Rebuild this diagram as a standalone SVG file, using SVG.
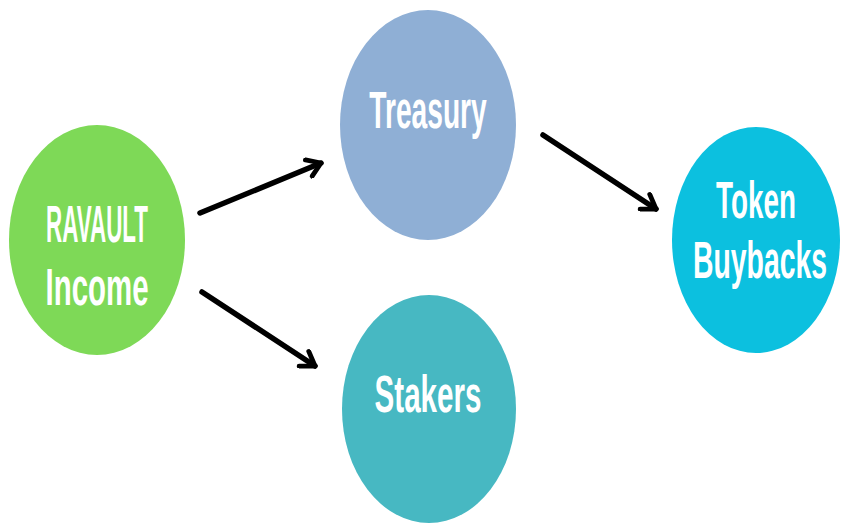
<svg xmlns="http://www.w3.org/2000/svg" width="841" height="525" viewBox="0 0 841 525">
<defs>
<style>
.lbl{font-family:"Liberation Sans","DejaVu Sans",Arial,sans-serif;font-weight:bold;fill:#ffffff;text-anchor:middle;font-size:52px}
.edge{stroke:#000000;stroke-width:5.5;fill:none;stroke-linecap:round;marker-end:url(#chev)}
</style>
<marker id="chev" viewBox="0 0 10 10" refX="8" refY="5" markerWidth="4" markerHeight="4" orient="auto" markerUnits="strokeWidth">
<path d="M2,1 L8,5 L2,9" fill="none" stroke="#000" stroke-width="2.2" stroke-linecap="round" stroke-linejoin="round"/>
</marker>
</defs>
<rect width="841" height="525" fill="#ffffff"/>
<g id="connectors">
<line class="edge" x1="200" y1="213" x2="321" y2="163"/>
<line class="edge" x1="202" y1="292" x2="315" y2="366"/>
<line class="edge" x1="543" y1="135" x2="656" y2="209"/>
</g>
<g id="ravault">
<ellipse cx="97" cy="240" rx="88" ry="115" fill="#7ed957"/>
<text class="lbl" transform="translate(97,242) scale(0.431,1)">RAVAULT</text>
<text class="lbl" transform="translate(97,305) scale(0.566,1)">Income</text>
</g>
<g id="treasury">
<ellipse cx="428" cy="125" rx="88" ry="115" fill="#8fafd5"/>
<text class="lbl" transform="translate(428,128) scale(0.542,1)">Treasury</text>
</g>
<g id="stakers">
<ellipse cx="429" cy="409" rx="87" ry="114" fill="#47b8c2"/>
<text class="lbl" transform="translate(428,412) scale(0.569,1)">Stakers</text>
</g>
<g id="buybacks">
<ellipse cx="756" cy="240" rx="84" ry="113" fill="#0cc0df"/>
<text class="lbl" transform="translate(756,218) scale(0.535,1)">Token</text>
<text class="lbl" transform="translate(760,278) scale(0.546,1)">Buybacks</text>
</g>
</svg>
